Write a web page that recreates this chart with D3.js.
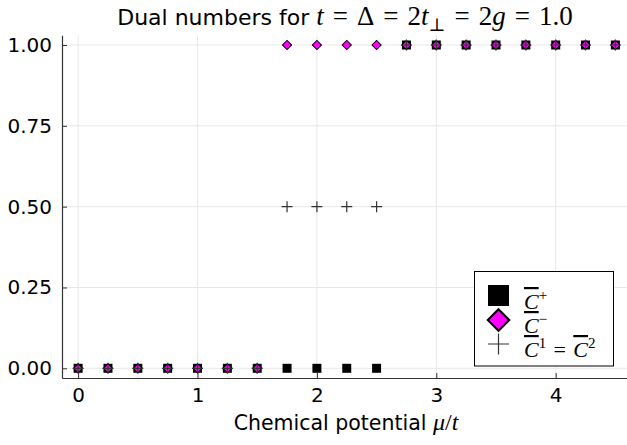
<!DOCTYPE html>
<html>
<head>
<meta charset="utf-8">
<script src="https://cdn.jsdelivr.net/npm/d3@7"></script>
<style>
  body { margin: 0; background: #fff; }
  svg { display: block; }
  .tick text { font-family: "DejaVu Sans", sans-serif; }
</style>
</head>
<body>
<svg id="chart" width="627" height="445"></svg>
<script>
// chemical potential mu/t, step 0.25
const mu = [0, 0.25, 0.5, 0.75, 1, 1.25, 1.5, 1.75, 2, 2.25, 2.5, 2.75, 3, 3.25, 3.5, 3.75, 4, 4.25, 4.5];
const cPlus  = [0, 0, 0, 0, 0, 0, 0, 0, 0, 0, 0, 1, 1, 1, 1, 1, 1, 1, 1];
const cMinus = [0, 0, 0, 0, 0, 0, 0, 1, 1, 1, 1, 1, 1, 1, 1, 1, 1, 1, 1];
const c12    = [0, 0, 0, 0, 0, 0, 0, 0.5, 0.5, 0.5, 0.5, 1, 1, 1, 1, 1, 1, 1, 1];
const xTicks = [0, 1, 2, 3, 4];
const yTicks = [0, 0.25, 0.5, 0.75, 1];

const svg = d3.select('#chart');
const sans = '"DejaVu Sans", sans-serif';
const serif = '"Liberation Serif", "DejaVu Serif", serif';
const sp = '\u2004';

const x = d3.scaleLinear().domain([-0.135, 4.635]).range([62, 631.5]);
const y = d3.scaleLinear().domain([-0.03, 1.03]).range([378, 35.3]);

// grid
svg.append('g').selectAll('line').data(xTicks).enter().append('line')
  .attr('x1', d => x(d)).attr('x2', d => x(d))
  .attr('y1', y.range()[0]).attr('y2', y.range()[1])
  .attr('stroke', '#e8e8e8').attr('stroke-width', 1);
svg.append('g').selectAll('line').data(yTicks).enter().append('line')
  .attr('x1', x.range()[0]).attr('x2', 627)
  .attr('y1', d => y(d)).attr('y2', d => y(d))
  .attr('stroke', '#e8e8e8').attr('stroke-width', 1);

// axes (ticks point inward)
const xAxis = svg.append('g').attr('transform', `translate(0,${y.range()[0]})`)
  .call(d3.axisBottom(x).tickValues(xTicks).tickFormat(d3.format('d')).tickSizeInner(-5).tickSizeOuter(0).tickPadding(10));
const yAxis = svg.append('g').attr('transform', `translate(${x.range()[0]},0)`)
  .call(d3.axisLeft(y).tickValues(yTicks).tickFormat(d3.format('.2f')).tickSizeInner(-5).tickSizeOuter(0).tickPadding(10));
[xAxis, yAxis].forEach(a => {
  a.select('.domain').attr('stroke', '#333').attr('stroke-width', 1.2);
  a.selectAll('.tick line').attr('stroke', '#333');
  a.selectAll('.tick text').attr('fill', '#000').style('font-size', '20px');
});
xAxis.selectAll('.tick text').attr('dy', '0.71em');

// markers
const plotG = svg.append('g');
plotG.selectAll('.sq').data(mu).enter().append('rect')
  .attr('x', (d, i) => x(d) - 4.5).attr('y', (d, i) => y(cPlus[i]) - 4.5)
  .attr('width', 9).attr('height', 9).attr('fill', '#000');
const diamond = d3.symbol().type(d3.symbolSquare).size(42);
plotG.selectAll('.dm').data(mu).enter().append('path')
  .attr('d', diamond)
  .attr('transform', (d, i) => `translate(${x(d)},${y(cMinus[i])}) rotate(45)`)
  .attr('fill', '#ff00ff').attr('stroke', '#000').attr('stroke-width', 1);
plotG.selectAll('.pl').data(mu).enter().append('path')
  .attr('d', (d, i) => `M${x(d) - 5.5},${y(c12[i])}H${x(d) + 5.5}M${x(d)},${y(c12[i]) - 5.5}V${y(c12[i]) + 5.5}`)
  .attr('stroke', '#333').attr('stroke-width', 1.2).attr('fill', 'none');

// title
const title = svg.append('text').attr('x', 345).attr('y', 25)
  .attr('text-anchor', 'middle').style('font-family', sans).style('font-size', '22px');
title.append('tspan').text('Dual numbers for ');
const m = (t, it) => title.append('tspan').style('font-family', serif).style('font-size', '27px')
  .style('font-style', it ? 'italic' : 'normal').text(t);
m('t', true); m(sp + '=' + sp + 'Δ' + sp + '=' + sp + '2', false); m('t', true);
title.append('tspan').attr('dy', 6).style('font-family', serif).style('font-size', '18px').text('⊥');
title.append('tspan').attr('dy', -6).style('font-family', serif).style('font-size', '27px').text(sp + '=' + sp + '2');
m('g', true); m(sp + '=' + sp + '1.0', false);

// x label
const xl = svg.append('text').attr('x', 346).attr('y', 430)
  .attr('text-anchor', 'middle').style('font-family', sans).style('font-size', '20.5px');
xl.append('tspan').text('Chemical potential ');
xl.append('tspan').style('font-family', serif).style('font-size', '24px').style('font-style', 'italic').text('μ');
xl.append('tspan').style('font-family', serif).style('font-size', '24px').text('/');
xl.append('tspan').style('font-family', serif).style('font-size', '24px').style('font-style', 'italic').text('t');

// legend
const lg = svg.append('g');
lg.append('rect').attr('x', 474.5).attr('y', 271.5).attr('width', 139).attr('height', 94.5)
  .attr('fill', '#fff').attr('stroke', '#000').attr('stroke-width', 1);
lg.append('rect').attr('x', 488).attr('y', 285).attr('width', 21).attr('height', 21).attr('fill', '#000');
lg.append('path').attr('d', d3.symbol().type(d3.symbolSquare).size(230))
  .attr('transform', 'translate(498.5,320) rotate(45)')
  .attr('fill', '#ff00ff').attr('stroke', '#000').attr('stroke-width', 2);
lg.append('path').attr('d', 'M488,344H509M498.5,333.5V354.5').attr('stroke', '#333').attr('stroke-width', 1.2);

const labels = [
  { y: 309, parts: [['C', true, 'over'], ['+', false, 'sup']] },
  { y: 333, parts: [['C', true, 'over'], ['−', false, 'sup']] },
  { y: 357, parts: [['C', true, 'over'], ['1', false, 'sup'], [sp + '=' + sp, false, ''], ['C', true, 'over'], ['2', false, 'sup']] }
];
labels.forEach(l => {
  const t = lg.append('text').attr('x', 524).attr('y', l.y)
    .style('font-family', serif).style('font-size', '22px');
  let up = false;
  l.parts.forEach(p => {
    const s = t.append('tspan').text(p[0]).style('font-style', p[1] ? 'italic' : 'normal');
    if (p[2] === 'over') s.attr('text-decoration', 'overline').style('text-decoration', 'overline');
    if (p[2] === 'sup') { s.attr('dy', -9).style('font-size', '15px'); up = true; }
    else if (up) { s.attr('dy', 9); up = false; }
  });
});
</script>
</body>
</html>
